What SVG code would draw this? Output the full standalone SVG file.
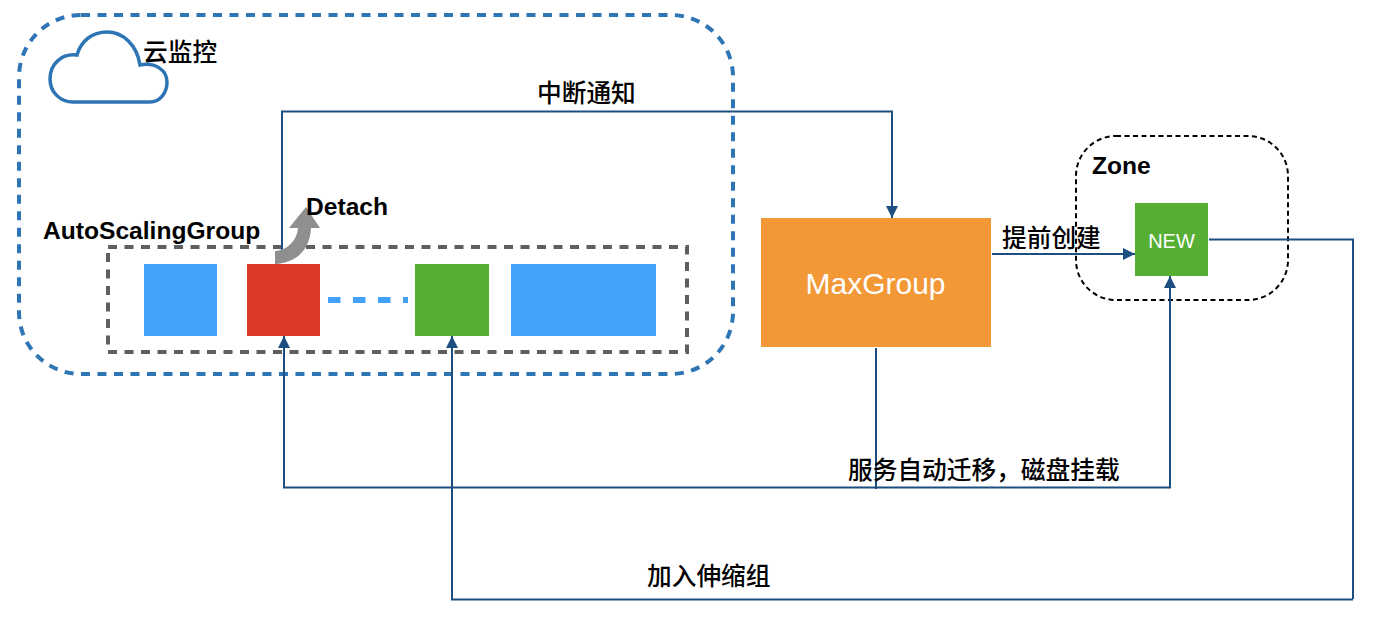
<svg xmlns="http://www.w3.org/2000/svg" width="1374" height="618" viewBox="0 0 1374 618">
<style>
.t{font-family:"Liberation Sans","Noto Sans CJK SC",sans-serif;font-size:24.600px;font-weight:bold;fill:#000}
.c{font-family:"Noto Sans CJK SC","Liberation Sans",sans-serif;font-size:24.700px;font-weight:500;fill:#000}
.l{fill:none;stroke:#1c4f80;stroke-width:2}
</style>
<defs><marker id="a" markerWidth="12" markerHeight="12" refX="12" refY="6" orient="auto" markerUnits="userSpaceOnUse"><path d="M0 0L12 6L0 12Z" fill="#1c4f80"/></marker></defs>
<rect width="1374" height="618" fill="#fff"/>
<g id="cloud-monitor">
<rect x="19" y="15" width="714" height="359" rx="62" fill="none" stroke="#2e75b5" stroke-width="4" stroke-dasharray="9 7.500"/>
<path d="M73 102H150C160 102 167 93 167 82C167 70 155 62 140 65C137 45 123 32 107 32C92 32 81 41 77 55C62 53 50 64 50 79C50 92 60 102 73 102Z" fill="none" stroke="#2e75b5" stroke-width="3.500"/>
<text class="c" x="143" y="61">云监控</text>
</g>
<g id="asg">
<rect x="108" y="247" width="579" height="105" fill="none" stroke="#5f5f5f" stroke-width="4" stroke-dasharray="9 7.500"/>
<text class="t" x="43" y="239">AutoScalingGroup</text>
</g>
<g id="node-blue1"><rect x="144" y="264" width="73" height="72" fill="#42a1f8"/></g>
<g id="node-red"><rect x="247" y="264" width="73" height="72" fill="#db3a26"/></g>
<g id="node-green"><rect x="415" y="264" width="74" height="72" fill="#56ae33"/></g>
<g id="node-blue2"><rect x="511" y="264" width="145" height="72" fill="#42a1f8"/></g>
<g id="dash"><path d="M328 300H408" stroke="#42a1f8" stroke-width="6" stroke-dasharray="12.500 12.500" fill="none"/></g>
<g id="maxgroup"><rect x="761" y="218" width="230" height="129" fill="#f29837"/><text x="875.500" y="294" text-anchor="middle" font-family="Liberation Sans,sans-serif" font-size="30" fill="#fff">MaxGroup</text></g>
<g id="zone">
<rect x="1076" y="136" width="212" height="164" rx="40" fill="none" stroke="#000" stroke-width="2" stroke-dasharray="5 3.500"/>
<text class="t" x="1092" y="174">Zone</text>
</g>
<g id="node-new"><rect x="1135" y="203" width="73" height="73" fill="#56ae33"/><text x="1171.500" y="247.500" text-anchor="middle" font-family="Liberation Sans,sans-serif" font-size="20" fill="#fff">NEW</text></g>
<g id="connectors">
<path class="l" d="M282 250V111.500H892V218" marker-end="url(#a)"/>
<path class="l" d="M992 254H1135" marker-end="url(#a)"/>
<path class="l" d="M1209 239.500H1353V599"/>
<path class="l" d="M1353 599.500H452V336" marker-end="url(#a)"/>
<path class="l" d="M876 348V489"/>
<path class="l" d="M283 487.500H1170V276" marker-end="url(#a)"/>
<path class="l" d="M284 488V336" marker-end="url(#a)"/>
<path d="M275 251C288 250 297 240 298 228H289L306 207L320 228H311C310 250 296 263 275 264Z" fill="#8f8f8f"/>
</g>
<text class="t" x="306" y="215">Detach</text>
<text class="c" x="537" y="102">中断通知</text>
<text class="c" x="1002" y="247">提前创建</text>
<text class="c" x="848" y="479">服务自动迁移，磁盘挂载</text>
<text class="c" x="647" y="585">加入伸缩组</text>
</svg>
